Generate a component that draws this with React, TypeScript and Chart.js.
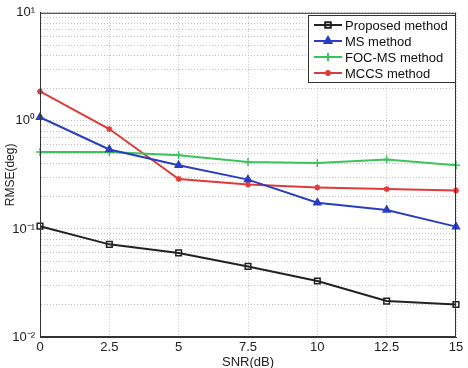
import React, { useEffect, useRef } from 'react';
import { Chart, registerables } from 'chart.js';
import { drawPoint } from 'chart.js/helpers';

Chart.register(...registerables);

const snr = [0, 2.5, 5, 7.5, 10, 12.5, 15];
const proposed = [0.106, 0.072, 0.060, 0.045, 0.033, 0.0215, 0.020];
const msMethod = [1.08, 0.544, 0.388, 0.286, 0.175, 0.150, 0.105];
const focMs = [0.514, 0.514, 0.48, 0.416, 0.407, 0.44, 0.388];
const mccs = [1.87, 0.84, 0.29, 0.258, 0.242, 0.234, 0.227];
const seriesNames = ['Proposed method', 'MS method', 'FOC-MS method', 'MCCS method'];
const xTicks = [0, 2.5, 5, 7.5, 10, 12.5, 15];
const xTickLabels = ['0', '2.5', '5', '7.5', '10', '12.5', '15'];
const yDecades = [0.01, 0.1, 1, 10];
const yDecadeLabels = ['10⁻²', '10⁻¹', '10⁰', '10¹'];
const yMinorMultipliers = [1, 2, 3, 4, 5, 6, 7, 8, 9];

const FONT = '"Liberation Sans", Arial, sans-serif';

const framePlugin = {
  id: 'frameLegend',
  afterDraw(chart: any) {
    const { ctx, chartArea } = chart;
    ctx.save();
    ctx.strokeStyle = '#333';
    ctx.lineWidth = 1;
    ctx.strokeRect(chartArea.left + 0.5, chartArea.top + 0.5, chartArea.right - chartArea.left - 1, chartArea.bottom - chartArea.top - 1);

    // legend
    const bx = 308, by = 15, bw = 147, bh = 67;
    ctx.fillStyle = '#fff';
    ctx.fillRect(bx, by, bw, bh);
    ctx.strokeStyle = '#333';
    ctx.strokeRect(bx + 0.5, by + 0.5, bw, bh);
    ctx.font = `13px ${FONT}`;
    ctx.textBaseline = 'middle';
    ctx.textAlign = 'left';
    chart.data.datasets.forEach((ds: any, i: number) => {
      const y = by + 10 + i * 16;
      ctx.strokeStyle = ds.borderColor;
      ctx.lineWidth = 2;
      ctx.setLineDash([]);
      ctx.beginPath();
      ctx.moveTo(bx + 6, y);
      ctx.lineTo(bx + 34, y);
      ctx.stroke();
      ctx.fillStyle = ds.pointBackgroundColor;
      drawPoint(ctx, {
        pointStyle: ds.pointStyle,
        radius: ds.pointRadius,
        borderWidth: ds.pointBorderWidth,
        rotation: 0,
      } as any, bx + 20, y);
      ctx.fillStyle = '#111';
      ctx.fillText(ds.label, bx + 37, y + 1);
    });
    ctx.restore();
  },
};

export default function App() {
  const ref = useRef<HTMLCanvasElement | null>(null);
  useEffect(() => {
    if (!ref.current) return;
    const mk = (label: string, data: number[], color: string, style: string, radius: number, fill: string) => ({
      label,
      data: snr.map((x, i) => ({ x, y: data[i] })),
      borderColor: color,
      backgroundColor: fill,
      pointBackgroundColor: fill,
      pointBorderColor: color,
      borderWidth: 2,
      pointStyle: style,
      pointRadius: radius,
      pointBorderWidth: 1.5,
      clip: false,
      tension: 0,
    });
    const chart = new Chart(ref.current, {
      type: 'line',
      data: {
        datasets: [
          mk(seriesNames[0], proposed, '#222222', 'rect', 4, 'rgba(255,255,255,0)'),
          mk(seriesNames[1], msMethod, '#2a3fc0', 'triangle', 4, '#2a3fc0'),
          mk(seriesNames[2], focMs, '#3cc35a', 'cross', 4, '#3cc35a'),
          mk(seriesNames[3], mccs, '#e03a3a', 'star', 3, '#e03a3a'),
        ] as any,
      },
      options: {
        animation: false,
        responsive: false,
        layout: { padding: { top: 11, right: 12, left: 0, bottom: 0 } },
        plugins: { legend: { display: false }, tooltip: { enabled: false } },
        scales: {
          x: {
            type: 'linear',
            min: 0,
            max: 15,
            afterFit: (s: any) => { s.height = 31; },
            afterBuildTicks: (s: any) => { s.ticks = xTicks.map((v) => ({ value: v })); },
            ticks: {
              autoSkip: false,
              padding: 3,
              color: '#222',
              font: { family: FONT, size: 13 },
              callback: (v: any) => { const i = xTicks.indexOf(Number(v)); return i >= 0 ? xTickLabels[i] : ''; },
            },
            grid: { color: '#c0c0c0', lineWidth: 1, drawTicks: false },
            border: { display: true, color: '#333', dash: [1, 2] },
            title: { display: true, text: 'SNR(dB)', color: '#222', font: { family: FONT, size: 13, lineHeight: 1 }, padding: { top: 0, bottom: -1 } },
          },
          y: {
            type: 'logarithmic',
            min: 0.01,
            max: 10,
            afterFit: (s: any) => { s.width = 40; },
            afterBuildTicks: (s: any) => {
              const t: any[] = [];
              yDecades.forEach((d, di) => {
                if (di === yDecades.length - 1) { t.push({ value: d, major: true }); return; }
                yMinorMultipliers.forEach((m) => t.push({ value: d * m, major: m === 1 }));
              });
              s.ticks = t;
            },
            ticks: {
              autoSkip: false,
              padding: 5,
              color: '#222',
              font: { family: FONT, size: 13 },
              callback: (v: any) => {
                const i = yDecades.findIndex((d) => Math.abs(d - Number(v)) / d < 1e-6);
                return i >= 0 ? yDecadeLabels[i] : '';
              },
            },
            grid: { color: '#c0c0c0', lineWidth: 1, drawTicks: false },
            border: { display: true, color: '#333', dash: [1, 2] },
            title: { display: true, text: 'RMSE(deg)', color: '#222', font: { family: FONT, size: 12 }, padding: { top: 3, bottom: 0 } },
          },
        },
      } as any,
      plugins: [framePlugin],
    });
    return () => chart.destroy();
  }, []);
  return (
    <div style={{ position: 'fixed', left: 0, top: 0, width: 468, height: 368, background: '#fff' }}>
      <canvas ref={ref} width={468} height={368} />
    </div>
  );
}
